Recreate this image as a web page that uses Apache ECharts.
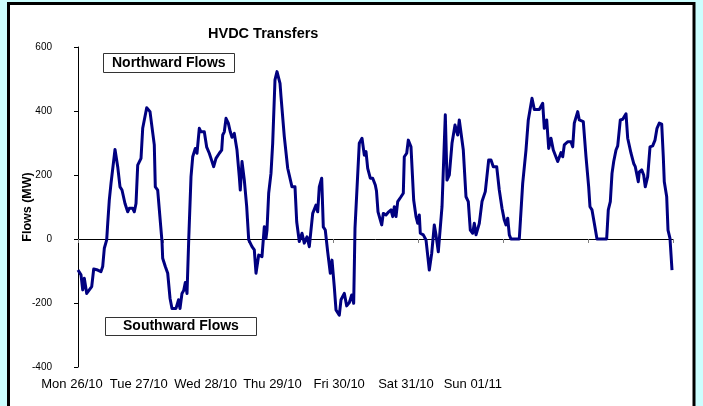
<!DOCTYPE html>
<html>
<head>
<meta charset="utf-8">
<script src="https://cdn.jsdelivr.net/npm/echarts@6/dist/echarts.min.js"></script>
<style>
html,body{margin:0;padding:0;background:#CCFFFF;}
#c{width:703px;height:406px;}
</style>
</head>
<body>
<div id="c"></div>
<script>
// Time in hours from Mon 26/10 00:00
const hours = [0,0.85,1.33,1.78,2.46,3.02,3.87,4.43,5.56,6.49,6.97,7.43,8.10,8.39,8.84,9.32,10.45,11.21,11.86,12.42,13.27,14.03,14.48,14.96,15.44,15.90,16.38,16.86,17.79,18.27,19.40,20.33,21.54,21.83,22.50,23.72,23.91,24.65,25.33,25.98,26.54,27.67,28.38,28.80,29.36,29.84,30.30,30.78,31.26,31.91,32.39,33.12,33.60,34.25,34.73,35.66,36.34,37.07,37.55,38.31,38.96,39.90,40.57,40.86,41.31,41.79,42.44,43.00,43.48,44.13,44.89,45.54,45.82,46.31,46.96,47.63,48.20,49.13,49.78,50.26,51.02,51.95,52.60,53.08,53.36,53.84,54.49,54.97,55.62,56.19,57.04,57.32,58.25,59.21,60.42,61.27,61.75,62.48,63.25,63.89,64.66,65.31,66.27,67.20,67.68,68.13,68.81,69.26,69.82,70.50,70.95,71.24,71.72,72.36,72.85,73.33,73.78,74.26,75.19,75.87,76.60,77.28,77.84,78.21,78.69,79.42,80.19,80.84,81.32,81.80,82.53,83.21,83.94,84.28,84.71,85.27,85.75,86.20,86.96,87.73,88.38,88.86,89.31,89.79,90.27,91.20,91.85,92.13,92.81,93.26,94.02,94.78,95.44,95.92,96.37,96.65,97.50,98.26,99.19,99.87,100.60,101.08,101.73,102.78,103.71,104.19,104.84,105.60,106.45,106.93,107.21,107.66,108.79,109.55,110.20,110.77,111.44,111.90,112.38,112.86,113.31,114.07,115.00,115.96,116.61,117.26,118.22,118.95,119.72,120.37,120.85,121.33,121.78,122.26,124.60,125.56,126.49,127.14,128.19,128.84,130.25,131.21,131.66,132.34,132.90,133.55,134.20,135.45,135.90,136.38,136.86,137.31,138.26,139.20,139.68,140.13,141.09,141.54,142.02,142.67,143.44,144.19,144.56,145.13,145.78,146.54,149.27,149.73,150.30,150.78,151.26,151.91,152.39,152.84,153.12,153.80,154.73,155.21,155.66,156.14,156.90,157.35,157.75,158.20,158.48,159.16,159.72,160.17,160.85,161.51,162.26,162.92,163.48,164.13,164.81,165.26,165.54,166.22,166.59,167.15,167.72];
// HVDC flow, MW (positive = northward)
const flows = [-97,-112,-159,-123,-170,-175,-149,-94,-97,-102,-86,-29,-3,49,122,174,280,226,163,153,111,85,96,91,96,85,111,231,252,346,410,398,294,163,153,-8,-60,-86,-107,-185,-217,-217,-190,-217,-170,-161,-136,-170,-3,195,257,283,268,346,335,335,287,268,252,226,252,268,278,325,335,377,362,335,318,330,278,195,153,242,184,101,-3,-24,-34,-107,-50,-55,38,2,28,143,205,299,497,523,486,445,320,221,163,163,54,-8,18,-13,7,-24,80,106,85,163,190,38,28,-40,-45,-107,-66,-149,-222,-217,-238,-190,-170,-209,-199,-175,-201,33,33,299,315,262,273,221,190,190,169,150,85,80,44,80,75,85,91,70,101,70,117,132,143,257,268,309,288,122,70,49,75,18,13,-3,-97,-45,44,13,-40,101,388,184,200,299,356,351,325,372,278,132,117,28,18,49,13,13,49,117,148,247,247,226,226,153,96,59,44,65,13,0,0,174,278,372,440,405,405,424,346,372,283,315,278,242,247,270,257,294,304,304,288,362,398,372,377,367,257,163,101,91,49,0,0,91,117,205,242,278,291,288,372,374,391,315,320,268,236,226,226,179,210,216,200,163,195,288,291,309,346,362,359,257,179,132,28,2,-97];
const dayLabels = ['Mon 26/10','Tue 27/10','Wed 28/10','Thu 29/10','Fri 30/10','Sat 31/10','Sun 01/11'];
const yTicks = {min: -400, max: 600, step: 200};

const n = Math.min(hours.length, flows.length);
const seriesData = [];
for (let i = 0; i < n; i++) seriesData.push([hours[i], flows[i]]);

const FONT = '"Liberation Sans", Arial, sans-serif';
const chart = echarts.init(document.getElementById('c'), null, {renderer: 'canvas'});
chart.setOption({
  animation: false,
  backgroundColor: '#CCFFFF',
  graphic: [{
    type: 'rect', z: -10, silent: true,
    shape: {x: 8.5, y: 3.5, width: 685.5, height: 420},
    style: {fill: '#ffffff', stroke: '#000000', lineWidth: 3}
  }],
  title: [
    {text: 'HVDC Transfers', left: 208, top: 25, padding: 0,
     textStyle: {fontFamily: FONT, fontSize: 14.5, fontWeight: 'bold', color: '#000', lineHeight: 17}},
    {text: 'Northward Flows', left: 103, top: 53, padding: [3, 9, 2, 9],
     borderWidth: 1, borderColor: '#333', backgroundColor: '#fff',
     textStyle: {fontFamily: FONT, fontSize: 14, fontWeight: 'bold', color: '#000', lineHeight: 15}},
    {text: 'Southward Flows', left: 105, top: 317, padding: [2, 18, 2, 18],
     borderWidth: 1, borderColor: '#333', backgroundColor: '#fff',
     textStyle: {fontFamily: FONT, fontSize: 14, fontWeight: 'bold', color: '#000', lineHeight: 15}}
  ],
  grid: [
    {left: 78, right: 30, top: 47, bottom: 39, containLabel: false},
    {left: 38.6, width: 467.6, top: 370, height: 1, containLabel: false}
  ],
  xAxis: [
    {type: 'value', gridIndex: 0, min: 0, max: 168, interval: 24,
     axisLine: {show: true, onZero: true, lineStyle: {color: '#000', width: 1}},
     axisTick: {show: true, length: 4, inside: false, lineStyle: {color: '#808080'}},
     axisLabel: {show: false}, splitLine: {show: false}},
    {type: 'category', gridIndex: 1, data: dayLabels, boundaryGap: true,
     axisLine: {show: false}, axisTick: {show: false}, splitLine: {show: false},
     axisLabel: {show: true, interval: 0, margin: 7, fontFamily: FONT, fontSize: 13, color: '#000'}}
  ],
  yAxis: [
    {type: 'value', gridIndex: 0, min: yTicks.min, max: yTicks.max, interval: yTicks.step,
     name: 'Flows (MW)', nameLocation: 'middle', nameGap: 44, nameMoveOverlap: false,
     nameTextStyle: {fontFamily: FONT, fontSize: 12.5, fontWeight: 'bold', color: '#000'},
     axisLine: {show: true, lineStyle: {color: '#000', width: 1}},
     axisTick: {show: true, length: 4, inside: false, lineStyle: {color: '#000'}},
     axisLabel: {margin: 26, fontFamily: FONT, fontSize: 10, color: '#000'},
     splitLine: {show: false}},
    {type: 'value', gridIndex: 1, show: false}
  ],
  series: [{
    type: 'line', xAxisIndex: 0, yAxisIndex: 0, data: seriesData,
    showSymbol: false, symbol: 'none',
    lineStyle: {color: '#000080', width: 3, join: 'round'}
  }]
});
</script>
</body>
</html>
